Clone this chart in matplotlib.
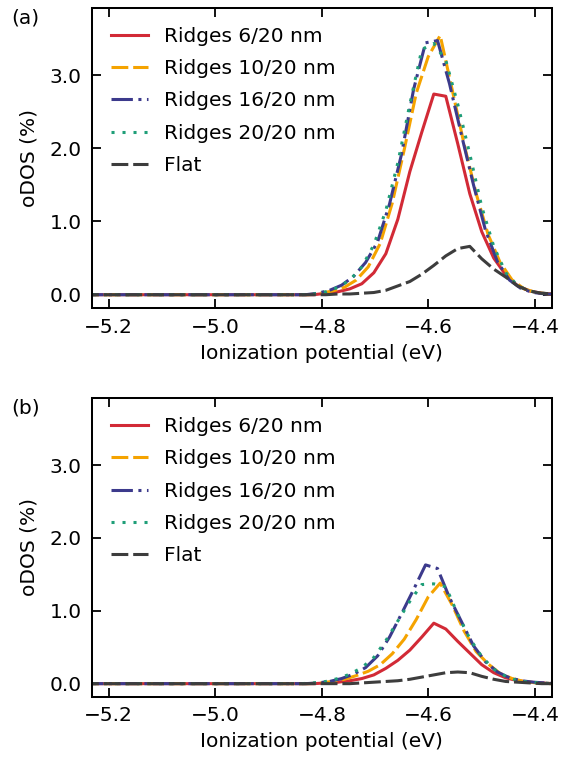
import matplotlib
matplotlib.use('Agg')
import matplotlib.pyplot as plt

# grilles en energie (eV)
x_red = [-5.25, -4.8375, -4.815, -4.7925, -4.77, -4.7475, -4.725, -4.7025, -4.68, -4.6575, -4.635,
         -4.6125, -4.59, -4.5675, -4.545, -4.5225, -4.50, -4.4775, -4.455, -4.4325, -4.41, -4.3875, -4.365]
x_blue = [-5.25, -4.8305, -4.808, -4.7855, -4.763, -4.7405, -4.718, -4.6955, -4.673, -4.6505, -4.628,
          -4.6055, -4.583, -4.5605, -4.538, -4.5155, -4.493, -4.4705, -4.448, -4.4255, -4.403, -4.3805, -4.365]
x_orange = [-5.25, -4.8255, -4.803, -4.7805, -4.758, -4.7355, -4.713, -4.6905, -4.668, -4.6455, -4.623,
            -4.6005, -4.578, -4.5555, -4.533, -4.5105, -4.488, -4.4655, -4.443, -4.4205, -4.398, -4.3755, -4.365]

# (a)
a_red = [0, 0, 0.0, 0.02, 0.04, 0.08, 0.15, 0.30, 0.56, 1.03, 1.68,
         2.22, 2.74, 2.71, 2.06, 1.38, 0.86, 0.50, 0.27, 0.12, 0.05, 0.02, 0.01]
a_orange = [0, 0, 0.02, 0.05, 0.10, 0.20, 0.38, 0.70, 1.25, 1.98, 2.75,
            3.25, 3.54, 2.80, 2.05, 1.38, 0.82, 0.44, 0.20, 0.08, 0.03, 0.01, 0.01]
a_blue = [0, 0, 0.02, 0.06, 0.13, 0.25, 0.44, 0.72, 1.24, 1.92, 2.80,
          3.44, 3.47, 2.88, 2.18, 1.50, 0.88, 0.45, 0.20, 0.08, 0.03, 0.01, 0.01]
a_green = [0, 0, 0.01, 0.04, 0.10, 0.20, 0.38, 0.68, 1.15, 1.80, 2.60,
           3.35, 3.43, 3.20, 2.60, 1.92, 1.20, 0.66, 0.30, 0.12, 0.05, 0.02, 0.01]
a_flat = [0, 0, 0.0, 0.0, 0.01, 0.01, 0.02, 0.03, 0.06, 0.12, 0.18,
          0.28, 0.40, 0.53, 0.63, 0.66, 0.49, 0.35, 0.24, 0.12, 0.05, 0.02, 0.01]

# (b)
b_red = [0, 0, 0.0, 0.01, 0.02, 0.04, 0.07, 0.12, 0.21, 0.32, 0.46,
         0.64, 0.83, 0.75, 0.58, 0.42, 0.26, 0.15, 0.08, 0.04, 0.02, 0.01, 0.0]
b_orange = [0, 0, 0.01, 0.03, 0.06, 0.11, 0.17, 0.26, 0.41, 0.61, 0.88,
            1.19, 1.38, 1.08, 0.72, 0.44, 0.27, 0.14, 0.07, 0.03, 0.01, 0.0, 0.0]
b_blue = [0, 0, 0.01, 0.03, 0.07, 0.13, 0.22, 0.38, 0.64, 0.96, 1.29,
          1.63, 1.58, 1.18, 0.85, 0.52, 0.30, 0.16, 0.08, 0.04, 0.02, 0.01, 0.0]
b_green = [0, 0, 0.01, 0.03, 0.07, 0.13, 0.22, 0.36, 0.59, 0.86, 1.13,
           1.36, 1.37, 1.33, 0.95, 0.62, 0.37, 0.20, 0.10, 0.04, 0.02, 0.01, 0.0]
b_flat = [0, 0, 0.0, 0.0, 0.0, 0.0, 0.01, 0.02, 0.03, 0.04, 0.06,
          0.09, 0.12, 0.15, 0.16, 0.15, 0.10, 0.06, 0.03, 0.02, 0.01, 0.0, 0.0]

labels = ['Ridges 6/20 nm', 'Ridges 10/20 nm', 'Ridges 16/20 nm', 'Ridges 20/20 nm', 'Flat']
colors = ['#d22a36', '#f5a300', '#3c3a8c', '#1f9e78', '#3d3d3d']
styles = ['-', (0, (5.5, 1.6)), (0, (7, 1.8, 1, 1.8)), (0, (1, 2.6)), (0, (5.5, 1.6))]

plt.rcParams['font.size'] = 14.5

fig = plt.figure(figsize=(5.8, 7.64), dpi=100)
ax1 = fig.add_axes([0.158, 0.597, 0.793, 0.393])
ax2 = fig.add_axes([0.158, 0.088, 0.793, 0.391])

data = [
    (ax1, [a_red, a_orange, a_blue, a_green, a_flat], '(a)', 0.976),
    (ax2, [b_red, b_orange, b_blue, b_green, b_flat], '(b)', 0.466),
]
xs = [x_red, x_orange, x_blue, x_red, x_red]

for ax, series, tag, ty in data:
    for i in range(5):
        ax.plot(xs[i], series[i], color=colors[i], linestyle=styles[i], lw=2.2, label=labels[i])
    ax.set_xlim(-5.232, -4.369)
    ax.set_ylim(-0.18, 3.92)
    ax.set_xticks([-5.2, -5.0, -4.8, -4.6, -4.4])
    ax.set_yticks([0, 1, 2, 3])
    ax.set_yticklabels(['0.0', '1.0', '2.0', '3.0'])
    ax.tick_params(direction='in', top=True, right=True, length=6.5, width=1.3, pad=7)
    for s in ax.spines.values():
        s.set_linewidth(1.45)
    ax.set_xlabel('Ionization potential (eV)', labelpad=5)
    ax.set_ylabel('oDOS (%)', labelpad=8)
    ax.legend(loc='upper left', frameon=False, handlelength=1.85, labelspacing=0.66,
              borderaxespad=0.55)
    fig.text(0.02, ty, tag, fontsize=14.5, va='center')

plt.savefig('out.png')
